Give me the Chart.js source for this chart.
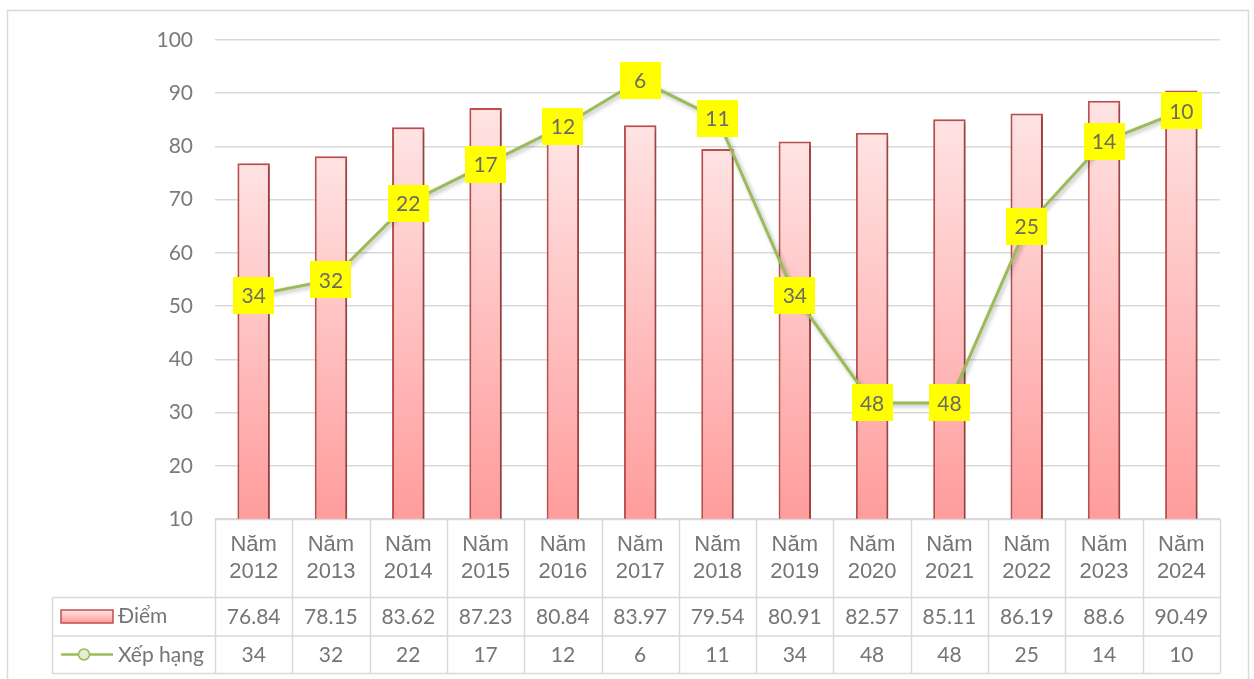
<!DOCTYPE html>
<html>
<head>
<meta charset="utf-8">
<script src="https://cdn.jsdelivr.net/npm/chart.js@4.4.1/dist/chart.umd.min.js"></script>
<style>
  html, body { margin: 0; padding: 0; background: #fff; }
  #wrap { width: 1254px; height: 679px; position: relative; }
</style>
</head>
<body>
<div id="wrap"><canvas id="chart"></canvas></div>
<script>
// ── data ──────────────────────────────────────────────────────────────────────
var categories = ["Năm 2012", "Năm 2013", "Năm 2014", "Năm 2015", "Năm 2016", "Năm 2017",
                  "Năm 2018", "Năm 2019", "Năm 2020", "Năm 2021", "Năm 2022", "Năm 2023", "Năm 2024"];
var diem    = [76.84, 78.15, 83.62, 87.23, 80.84, 83.97, 79.54, 80.91, 82.57, 85.11, 86.19, 88.6, 90.49];
var xepHang = [34, 32, 22, 17, 12, 6, 11, 34, 48, 48, 25, 14, 10];
var diemLabel = "Điểm";
var rankLabel = "Xếp hạng";

var GRID = "#d9d9d9";
var TEXT = "#757575";
var NUM_FONT = "Lato, 'Open Sans', sans-serif";
var HEAD_FONT = "'Liberation Sans', Arial, sans-serif";

// ── helpers ───────────────────────────────────────────────────────────────────

function barGradient(ctx, top, bottom) {
  var g = ctx.createLinearGradient(0, top, 0, bottom);
  g.addColorStop(0, "#ffe3e3");
  g.addColorStop(1, "#ff9c9c");
  return g;
}

// ── plugins ───────────────────────────────────────────────────────────────────

var shadowPlugin = {
  id: "shadow",
  beforeDatasetDraw: function(chart, args) {
    var c = chart.ctx;
    c.save();
    c.shadowColor = "rgba(0,0,0,0.28)";
    c.shadowBlur = 4;
    c.shadowOffsetX = 2;
    c.shadowOffsetY = 2;
  },
  afterDatasetDraw: function(chart) {
    chart.ctx.restore();
  }
};

var labelPlugin = {
  id: "rankLabels",
  afterDatasetsDraw: function(chart) {
    var c = chart.ctx;
    var meta = chart.getDatasetMeta(1);
    c.save();
    c.font = "21px " + NUM_FONT;
    c.textAlign = "center";
    c.textBaseline = "middle";
    meta.data.forEach(function(pt, i) {
      var w = 41, h = 37;
      c.fillStyle = "#ffff00";
      c.fillRect(Math.round(pt.x - w / 2), Math.round(pt.y - h / 2), w, h);
      c.fillStyle = "#6b6b6b";
      c.fillText(String(xepHang[i]), pt.x, pt.y + 1);
    });
    c.restore();
  }
};

var tablePlugin = {
  id: "dataTable",
  afterDraw: function(chart) {
    var c = chart.ctx;
    var area = chart.chartArea;
    var xs = chart.scales.x;
    var n = categories.length;
    var colW = (area.right - area.left) / n;
    var top = area.bottom;
    var r1 = 597.5, r2 = 636, r3 = 673.5;
    var leftX = 52.5;

    c.save();
    // outer chart frame
    c.strokeStyle = GRID;
    c.lineWidth = 1.5;
    c.strokeRect(7.5, 10.5, 1241, 700);

    // table grid
    c.beginPath();
    c.moveTo(area.left, top + 0.5); c.lineTo(area.right, top + 0.5);
    [r1, r2, r3].forEach(function(y) {
      c.moveTo(leftX, y); c.lineTo(area.right, y);
    });
    for (var i = 0; i <= n; i++) {
      var x = Math.round(area.left + i * colW) + 0.5;
      c.moveTo(x, top); c.lineTo(x, r3);
    }
    c.moveTo(leftX, r1); c.lineTo(leftX, r3);
    c.stroke();

    // header labels (two lines)
    c.fillStyle = TEXT;
    c.textAlign = "center";
    c.textBaseline = "middle";
    c.font = "22px " + HEAD_FONT;
    categories.forEach(function(cat, i) {
      var cx = xs.getPixelForValue(i);
      var parts = cat.split(" ");
      c.fillText(parts[0], cx, 545);
      c.fillText(parts[1], cx, 572);
    });

    // value rows
    c.font = "21px " + NUM_FONT;
    diem.forEach(function(v, i) {
      c.fillText(String(v), xs.getPixelForValue(i), 617);
    });
    xepHang.forEach(function(v, i) {
      c.fillText(String(v), xs.getPixelForValue(i), 655);
    });

    // legend keys
    c.fillStyle = barGradient(c, 610, 623);
    c.fillRect(61, 610, 52, 13);
    c.strokeStyle = "#c0504d";
    c.lineWidth = 1.5;
    c.strokeRect(61, 610, 52, 13);

    c.strokeStyle = "#9bbb59";
    c.lineWidth = 2.5;
    c.beginPath();
    c.moveTo(61, 654.5); c.lineTo(113, 654.5);
    c.stroke();
    c.beginPath();
    c.arc(84, 654.5, 5.5, 0, Math.PI * 2);
    c.fillStyle = "#e4edcf";
    c.fill();
    c.lineWidth = 1.5;
    c.stroke();

    c.fillStyle = TEXT;
    c.textAlign = "left";
    c.font = "21px " + NUM_FONT;
    c.fillText(diemLabel, 118, 616);
    c.fillText(rankLabel, 118, 655);
    c.restore();
  }
};

// ── chart ─────────────────────────────────────────────────────────────────────

var ctx = document.getElementById("chart").getContext("2d");
var chart = new Chart(ctx, {
  type: "bar",
  data: {
    labels: categories,
    datasets: [
      {
        type: "bar",
        label: diemLabel,
        data: diem,
        order: 2,
        yAxisID: "y",
        backgroundColor: function(context) {
          var ch = context.chart;
          if (!ch.chartArea || context.parsed === undefined) return "#ffc0c0";
          var top = ch.scales.y.getPixelForValue(context.parsed.y);
          return barGradient(ch.ctx, top, ch.chartArea.bottom);
        },
        borderColor: "#c0504d",
        borderWidth: 2,
        borderSkipped: "bottom",
        barPercentage: 0.42,
        categoryPercentage: 1
      },
      {
        type: "line",
        label: rankLabel,
        data: xepHang,
        order: 1,
        yAxisID: "y2",
        borderColor: "#9bbb59",
        borderWidth: 3,
        pointRadius: 0,
        tension: 0,
        fill: false
      }
    ]
  },
  options: {
    responsive: true,
    maintainAspectRatio: false,
    animation: false,
    devicePixelRatio: 1,
    layout: { padding: { left: 155, right: 34, top: 40, bottom: 160 } },
    plugins: {
      legend: { display: false },
      tooltip: { enabled: false }
    },
    scales: {
      x: {
        display: false,
        offset: true,
        grid: { display: false }
      },
      y: {
        min: 10,
        max: 100,
        afterFit: function(scale) { scale.width = 60; },
        ticks: {
          stepSize: 10,
          padding: 22,
          color: "#7a7a7a",
          font: { family: NUM_FONT, size: 21 }
        },
        grid: { color: GRID, lineWidth: 1.5, drawTicks: false },
        border: { display: false }
      },
      y2: {
        display: false,
        reverse: true,
        min: 0.79,
        max: 63.1
      }
    }
  },
  plugins: [shadowPlugin, labelPlugin, tablePlugin]
});
</script>
</body>
</html>
